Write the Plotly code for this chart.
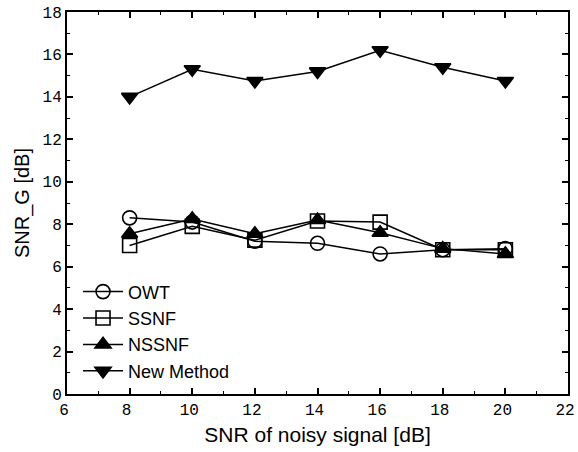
import plotly.graph_objects as go

snr = [8, 10, 12, 14, 16, 18, 20]
owt = [8.3, 8.1, 7.2, 7.1, 6.6, 6.8, 6.85]
ssnf = [7.0, 7.9, 7.25, 8.15, 8.1, 6.8, 6.8]
nssnf = [7.55, 8.25, 7.55, 8.2, 7.6, 6.85, 6.6]
new_method = [14.0, 15.3, 14.75, 15.2, 16.2, 15.4, 14.75]

series = [
    ("OWT", owt, "circle-open"),
    ("SSNF", ssnf, "square-open"),
    ("NSSNF", nssnf, "triangle-up"),
    ("New Method", new_method, "triangle-down"),
]

fig = go.Figure()
for name, vals, sym in series:
    fig.add_trace(go.Scatter(
        x=snr, y=vals, name=name, mode="lines+markers",
        line=dict(color="black", width=1.5),
        marker=dict(symbol=sym, size=14, color="black",
                    line=dict(color="black", width=1.6)),
    ))

axis_common = dict(
    showgrid=False, zeroline=False, showline=True, linecolor="black",
    linewidth=2, mirror="allticks", ticks="inside", ticklen=6,
    tickwidth=1.5, tickcolor="black", automargin=False,
    ticklabeloverflow="allow",
    tickfont=dict(family="Liberation Mono", size=16, color="black"),
)
minor_common = dict(
    showgrid=False, zeroline=False, showline=False, mirror="allticks",
    ticks="inside", ticklen=3, tickwidth=1, tickcolor="black",
    showticklabels=False, automargin=False, dtick=1,
)

fig.update_layout(
    xaxis=dict(range=[6, 22], dtick=2, tick0=6, ticklabelshift=-3,
               title=dict(text="SNR of noisy signal [dB]", standoff=8,
                          font=dict(family="Liberation Sans", size=21, color="black")),
               **axis_common),
    yaxis=dict(range=[0, 18], dtick=2, tick0=0,
               title=dict(text="SNR_G [dB]", standoff=8,
                          font=dict(family="Liberation Sans", size=20, color="black")),
               **axis_common),
    xaxis2=dict(range=[6, 22], overlaying="x", anchor="y", tick0=6, **minor_common),
    yaxis2=dict(range=[0, 18], overlaying="y", anchor="x", tick0=0, **minor_common),
)
# invisible trace to activate the minor-tick axes
fig.add_trace(go.Scatter(x=[6], y=[0], xaxis="x2", yaxis="y2", mode="markers",
                         marker=dict(opacity=0), showlegend=False, hoverinfo="skip"))

fig.update_layout(
    width=578, height=452,
    margin=dict(l=67, r=10, t=12, b=58),
    plot_bgcolor="white", paper_bgcolor="white",
    legend=dict(x=0.022, y=0.012, xanchor="left", yanchor="bottom",
                bgcolor="rgba(0,0,0,0)", tracegroupgap=0, itemwidth=40,
                font=dict(family="Liberation Sans", size=18, color="black")),
)

fig.write_html("out.html", config={"displayModeBar": False},
               post_script="document.body.style.margin='0';")
